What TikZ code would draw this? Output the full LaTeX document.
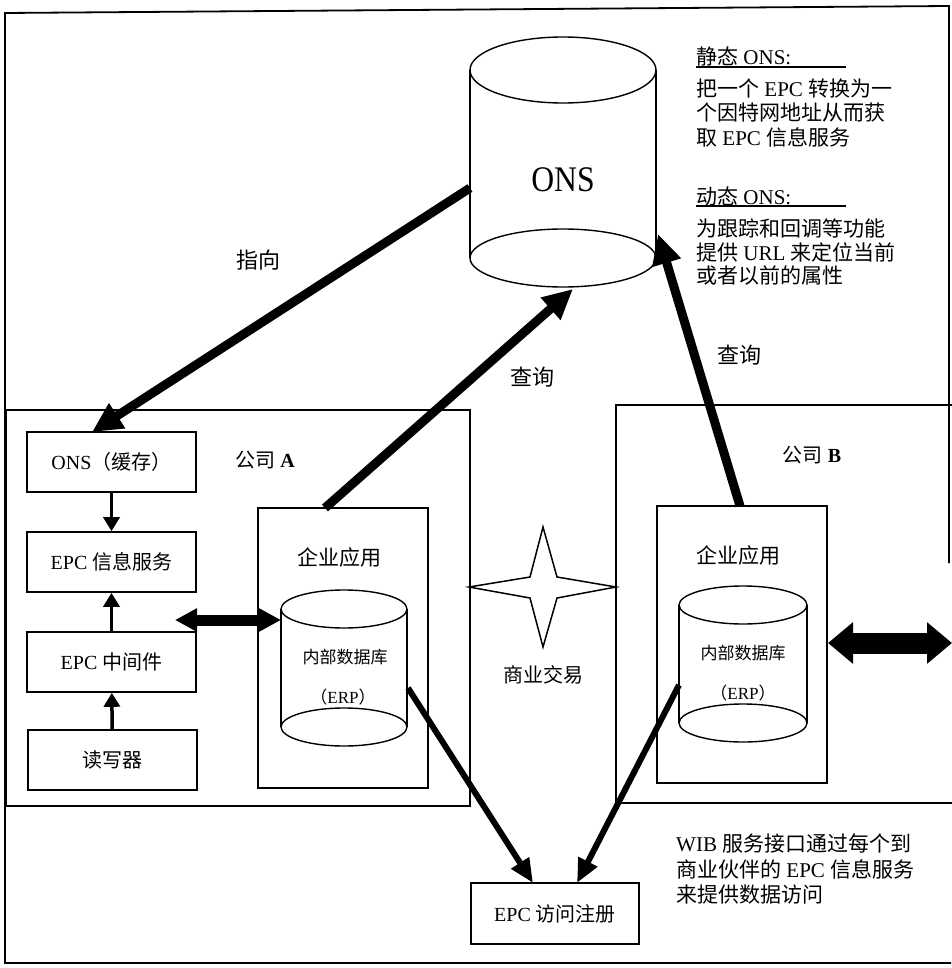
\documentclass[tikz,border=0pt]{standalone}
\usepackage{fontspec}
\setmainfont{Liberation Serif}
\newfontfamily\cjk{Noto Sans CJK SC}
\usetikzlibrary{arrows.meta,calc}
\newcommand{\zh}[1]{{\cjk #1}}
% cylinder: centre x, top y, bottom y, x radius, y radius
\newcommand{\drawdrum}[5]{%
  \draw[drumline] (#1,#2) ellipse [x radius=#4pt, y radius=#5pt];
  \draw[drumline] (#1,#3) ellipse [x radius=#4pt, y radius=#5pt];
  \draw[drumline] (#1-#4,#2) -- (#1-#4,#3) (#1+#4,#2) -- (#1+#4,#3);
}
\begin{document}
\begin{tikzpicture}[x=1pt,y=-1pt,
  frameline/.style={line width=1.8pt},
  drumline/.style={line width=1.4pt},
  box/.style={draw,line width=1.6pt,inner sep=0pt,minimum width=169pt,minimum height=60pt,
    font=\fontsize{20}{24}\selectfont},
  area/.style={draw,line width=1.6pt,inner sep=0pt},
  lbl/.style={inner sep=0pt,font=\fontsize{20}{24}\selectfont},
  small/.style={inner sep=0pt,font=\fontsize{17}{20}\selectfont},
  note/.style={inner sep=0pt,anchor=west,font=\fontsize{21}{24}\selectfont},
  thinarrow/.style={line width=3.5pt,-{Triangle[length=14pt,width=16pt]}},
  bigarrow/.style={line width=9pt,-{Triangle[length=30pt,width=28pt]}},
  midarrow/.style={line width=6pt,-{Triangle[length=24pt,width=20pt]}},
  dblA/.style={line width=11pt,{Triangle[length=22pt,width=22pt]}-{Triangle[length=22pt,width=22pt]}},
  dblB/.style={line width=21pt,{Triangle[length=25pt,width=40pt]}-{Triangle[length=25pt,width=40pt]}}]
\useasboundingbox (0,0) rectangle (951,968);

% outer frame (right side only partly drawn)
\draw[frameline] (949,563) -- (949,6) -- (5,13) -- (5,963) -- (951,963);

% company areas
\node[area,minimum width=464pt,minimum height=396pt] (compA) at (238,608) {};
\node[area,minimum width=374pt,minimum height=398pt] (compB) at (803,604) {};
\node[lbl] (compAlbl) at (265,460) {\zh{公司} \textbf{A}};
\node[lbl] (compBlbl) at (812,455) {\zh{公司} \textbf{B}};

% ONS server
\draw[drumline] (563,70) ellipse [x radius=93pt, y radius=33pt];
\draw[drumline] (563,258) ellipse [x radius=93pt, y radius=29pt];
\draw[drumline] (470,70) -- (470,258) (656,70) -- (656,258);
\node[inner sep=0pt,font=\fontsize{36}{40}\selectfont] (onsT) at (563,180) {\scalebox{0.88}[1]{ONS}};
\coordinate (onsL) at (470,188);
\coordinate (onsBot) at (573,289);
\coordinate (onsR) at (658,234);

% notes on ONS
\node[note] (t1) at (696,56) {\zh{静态} ONS:};
\draw[line width=1.5pt] (696,67) -- (846,67);
\node[note] (t2) at (696,89) {\zh{把一个} EPC \zh{转换为一}};
\node[note] (t3) at (696,113) {\zh{个因特网地址从而获}};
\node[note] (t4) at (696,137) {\zh{取} EPC \zh{信息服务}};
\node[note] (t5) at (696,196) {\zh{动态} ONS:};
\draw[line width=1.5pt] (696,206) -- (846,206);
\node[note] (t6) at (696,228) {\zh{为跟踪和回调等功能}};
\node[note] (t7) at (696,252) {\zh{提供} URL \zh{来定位当前}};
\node[note] (t8) at (696,276) {\zh{或者以前的属性}};

% company A stack
\node[box] (onsc) at (111.5,462) {ONS\zh{（缓存）}};
\node[box] (epcis) at (111.5,562) {EPC \zh{信息服务}};
\node[box] (epcmw) at (111.5,662) {EPC \zh{中间件}};
\node[box] (reader) at (112.5,760) {\zh{读写器}};
\draw[thinarrow] (onsc) -- (epcis);
\draw[thinarrow] (epcmw) -- (epcis);
\draw[thinarrow] (reader) -- (epcmw);

% enterprise applications
\node[area,minimum width=170pt,minimum height=280pt] (entA) at (343,648) {};
\node[area,minimum width=170pt,minimum height=277pt] (entB) at (742,644.5) {};
\node[lbl,font=\fontsize{21}{24}\selectfont] (entAlbl) at (339,557) {\zh{企业应用}};
\node[lbl,font=\fontsize{21}{24}\selectfont] (entBlbl) at (738,555) {\zh{企业应用}};
\drawdrum{344}{609}{727}{63}{19}
\drawdrum{743}{605}{723}{64}{19}
\node[small] (dbA1) at (345,657) {\zh{内部数据库}};
\node[small] (dbA2) at (343,697) {\zh{（}ERP\zh{）}};
\node[small] (dbB1) at (743,653) {\zh{内部数据库}};
\node[small] (dbB2) at (743,693) {\zh{（}ERP\zh{）}};

% business transaction star
\draw[line width=1.5pt] (543,527) -- (557,577) -- (616,587) -- (557,598) -- (543,647)
  -- (530,598) -- (469,587) -- (530,577) -- cycle;
\node[lbl] (trade) at (543,675) {\zh{商业交易}};

% access registry
\node[box,minimum width=168pt,minimum height=61pt] (reg) at (555,913.5) {EPC \zh{访问注册}};
\node[note] (w1) at (676,843) {WIB \zh{服务接口通过每个到}};
\node[note] (w2) at (676,869) {\zh{商业伙伴的} EPC \zh{信息服务}};
\node[note] (w3) at (676,895) {\zh{来提供数据访问}};

% connector end points
\coordinate (cacheTop) at (92,432);
\coordinate (entATop) at (325,508);
\coordinate (entBTop) at (740,506);
\coordinate (dbAR) at (408,688);
\coordinate (dbBL) at (679,685);
\coordinate (regL) at (533,883);
\coordinate (regR) at (577,883);
\coordinate (mwLink) at (175,620);
\coordinate (dbALink) at (281,620);
\coordinate (dbBLink) at (828,643);
\coordinate (outLink) at (952,643);

% connectors
\draw[bigarrow] (onsL) -- (cacheTop);
\draw[bigarrow] (entATop) -- (onsBot);
\draw[bigarrow] (entBTop) -- (onsR);
\draw[midarrow] (dbAR) -- (regL);
\draw[midarrow] (dbBL) -- (regR);
\draw[dblA] (mwLink) -- (dbALink);
\draw[dblB] (dbBLink) -- (outLink);

\node[lbl,font=\fontsize{22}{26}\selectfont] (pointLbl) at (258,260) {\zh{指向}};
\node[lbl,font=\fontsize{22}{26}\selectfont] (qALbl) at (532,377) {\zh{查询}};
\node[lbl,font=\fontsize{22}{26}\selectfont] (qBLbl) at (739,355) {\zh{查询}};
\end{tikzpicture}
\end{document}
